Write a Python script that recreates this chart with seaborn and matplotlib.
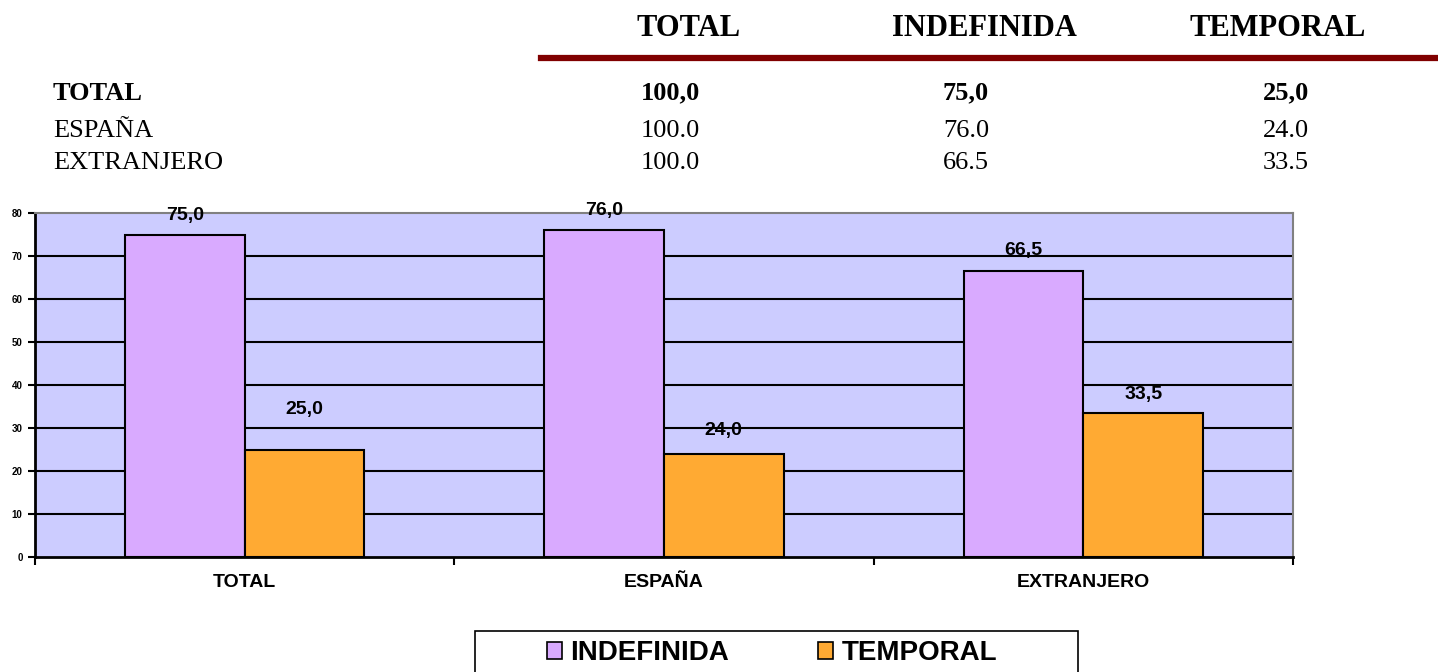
import pandas as pd
import matplotlib
matplotlib.use('Agg')
import matplotlib.pyplot as plt
import seaborn as sns
from matplotlib.patches import Patch, Rectangle
from matplotlib.lines import Line2D


# datos
categorias = ['TOTAL', 'ESPAÑA', 'EXTRANJERO']
series = ['INDEFINIDA', 'TEMPORAL']
indefinida = [75.0, 76.0, 66.5]
temporal = [25.0, 24.0, 33.5]
col_total = ['100,0', '100.0', '100.0']
col_indef = ['75,0', '76.0', '66.5']
col_temp = ['25,0', '24.0', '33.5']
cabecera = ['TOTAL', 'INDEFINIDA', 'TEMPORAL']
y_ticks = [0, 10, 20, 30, 40, 50, 60, 70, 80]

colores = {'INDEFINIDA': '#D9AAFF', 'TEMPORAL': '#FFAA33'}

df = pd.DataFrame({
    'cat': categorias * 2,
    'tipo': ['INDEFINIDA'] * 3 + ['TEMPORAL'] * 3,
    'valor': indefinida + temporal,
})

W, H = 1438, 672
fig = plt.figure(figsize=(W / 100, H / 100), dpi=100)
serif = 'Liberation Serif'
sans = 'Liberation Sans'

# tabla superior
hdr_x = [689, 984, 1278]
for x, t in zip(hdr_x, cabecera):
    fig.text(x / W, 1 - 29 / H, t, ha='center', va='center', family=serif,
             fontsize=22, fontweight='bold')
fig.add_artist(Line2D([541 / W, 1.0], [1 - 58 / H, 1 - 58 / H], color='#800000',
                      linewidth=4.5, transform=fig.transFigure))

filas_y = [93, 131, 163]
col_x = [641, 943, 1263]
for i, (lab, y) in enumerate(zip(categorias, filas_y)):
    w = 'bold' if i == 0 else 'normal'
    fig.text(53 / W, 1 - y / H, lab, ha='left', va='center', family=serif,
             fontsize=19, fontweight=w)
    for x, col in zip(col_x, [col_total, col_indef, col_temp]):
        fig.text(x / W, 1 - y / H, col[i], ha='left', va='center', family=serif,
                 fontsize=19, fontweight=w)

# grafico
ax = fig.add_axes([35 / W, 1 - 557 / H, (1293 - 35) / W, (557 - 213) / H])
ax.set_facecolor('#CCCCFF')
sns.barplot(data=df, x='cat', y='valor', hue='tipo', hue_order=series,
            palette=colores, width=0.57, edgecolor='black', linewidth=1.5,
            saturation=1, legend=False, ax=ax, zorder=3)

ax.set_ylim(0, 80)
ax.set_xlim(-0.5, 2.5)
ax.set_yticks(y_ticks)
ax.set_yticklabels([str(v) for v in y_ticks], fontsize=7, fontweight='bold', family=sans)
for v in y_ticks[1:-1]:
    ax.axhline(v, color='black', linewidth=1.5, zorder=1)

ax.set_xticks([-0.5, 0.5, 1.5, 2.5])
ax.set_xticklabels([])
ax.set_xticks([0, 1, 2], minor=True)
ax.set_xticklabels(categorias, minor=True, fontsize=14, fontweight='bold', family=sans)
ax.tick_params(axis='x', which='minor', length=0, pad=12)
ax.tick_params(axis='x', which='major', length=6, width=1.5, direction='out')
ax.tick_params(axis='y', length=5, width=1.5, direction='out', pad=4)
ax.set_xlabel('')
ax.set_ylabel('')

for s in ['left', 'bottom']:
    ax.spines[s].set_color('black')
    ax.spines[s].set_linewidth(2)
for s in ['top', 'right']:
    ax.spines[s].set_color('#808080')
    ax.spines[s].set_linewidth(1.5)

offsets = [[14, 14, 15], [29, 16.5, 13]]
for k, cont in enumerate(ax.containers):
    for j, bar in enumerate(cont):
        h = bar.get_height()
        ax.annotate(f'{h:.1f}'.replace('.', ','),
                    (bar.get_x() + bar.get_width() / 2, h),
                    xytext=(0, offsets[k][j]), textcoords='offset points',
                    ha='center', va='center', fontsize=14, fontweight='bold',
                    family=sans, annotation_clip=False)

# leyenda
fig.add_artist(Rectangle((475 / W, -0.05), (1078 - 475) / W, 0.05 + (672 - 631) / H,
                         transform=fig.transFigure, facecolor='white',
                         edgecolor='black', linewidth=1.2))
handles = [Patch(facecolor=colores[s], edgecolor='black', linewidth=1.2) for s in series]
fig.legend(handles, series, loc='center', bbox_to_anchor=(772 / W, 1 - 653 / H),
           ncol=2, frameon=False, handlelength=0.55, handleheight=0.55,
           handletextpad=0.3, columnspacing=3.2,
           prop={'family': sans, 'weight': 'bold', 'size': 20})

fig.savefig('out.png', dpi=100)
